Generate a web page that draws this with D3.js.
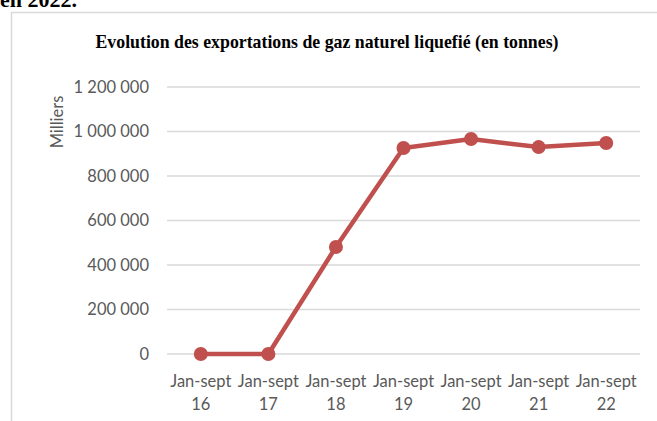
<!DOCTYPE html>
<html>
<head>
<meta charset="utf-8">
<script src="https://cdn.jsdelivr.net/npm/d3@7"></script>
<style>
  body { margin: 0; background: #fff; }
  svg { display: block; }
</style>
</head>
<body>
<div id="chart"></div>
<script>
// data
var categories = ["16", "17", "18", "19", "20", "21", "22"];
var catPrefix = "Jan-sept";
var exports = [0, 0, 481000, 926000, 966000, 930000, 948000];
var yTicks = [0, 200000, 400000, 600000, 800000, 1000000, 1200000];

var svgWidth = 657, svgHeight = 421;
var margin = { top: 87, right: 17, bottom: 67, left: 167 };
var width = svgWidth - margin.left - margin.right;
var height = svgHeight - margin.top - margin.bottom;

var labelFont = "Lato, sans-serif";
var labelSize = 16.5;

var svg = d3.select("#chart").append("svg")
    .attr("width", svgWidth)
    .attr("height", svgHeight);

// clipped paragraph text above the chart
svg.append("text")
    .attr("x", 0)
    .attr("y", 7)
    .attr("font-family", "Liberation Serif, serif")
    .attr("font-weight", "bold")
    .attr("font-size", 22)
    .attr("fill", "#000")
    .text("en 2022.");

// chart frame
svg.append("rect")
    .attr("x", 11.5).attr("y", 12.5)
    .attr("width", 700).attr("height", 500)
    .attr("fill", "none")
    .attr("stroke", "#d9d9d9")
    .attr("stroke-width", 1.5);

svg.append("text")
    .attr("x", 327)
    .attr("y", 48)
    .attr("text-anchor", "middle")
    .attr("font-family", "Liberation Serif, serif")
    .attr("font-weight", "bold")
    .attr("font-size", 17.8)
    .attr("fill", "#000")
    .text("Evolution des exportations de gaz naturel liquefié (en tonnes)");

var chartGroup = svg.append("g")
    .attr("transform", `translate(${margin.left}, ${margin.top})`);

var x = d3.scaleBand().domain(categories).range([0, width]);
var y = d3.scaleLinear().domain([0, 1200000]).range([height, 0]);

var fmt = function(v) { return d3.format(",")(v).replace(/,/g, " "); };

// gridlines
chartGroup.append("g")
    .selectAll("line")
    .data(yTicks)
    .enter()
    .append("line")
    .attr("x1", 0).attr("x2", width)
    .attr("y1", d => y(d)).attr("y2", d => y(d))
    .attr("stroke", "#d9d9d9")
    .attr("stroke-width", 1.5);

// y axis labels
var leftAxis = d3.axisLeft(y).tickValues(yTicks).tickFormat(fmt).tickSize(0).tickPadding(18);
var yAxis = chartGroup.append("g").call(leftAxis);
yAxis.select(".domain").remove();
yAxis.selectAll("text")
    .attr("font-family", labelFont)
    .attr("font-size", labelSize)
    .attr("fill", "#595959");

// x axis labels (two lines)
var bottomAxis = d3.axisBottom(x).tickSize(0).tickPadding(0).tickFormat("");
var xAxis = chartGroup.append("g")
    .attr("transform", `translate(0, ${height})`)
    .call(bottomAxis);
xAxis.select(".domain").remove();
xAxis.selectAll(".tick").each(function(d) {
    var t = d3.select(this).select("text")
        .attr("font-family", labelFont)
        .attr("font-size", labelSize)
        .attr("fill", "#595959")
        .attr("dy", null)
        .attr("y", 0);
    t.append("tspan").attr("x", 0).attr("y", 33).text(catPrefix);
    t.append("tspan").attr("x", 0).attr("y", 56).text(d);
});

// y axis title
svg.append("text")
    .attr("transform", "rotate(-90)")
    .attr("x", -122)
    .attr("y", 63)
    .attr("text-anchor", "middle")
    .attr("font-family", labelFont)
    .attr("font-size", labelSize)
    .attr("fill", "#595959")
    .text("Milliers");

// line + markers
var line = d3.line()
    .x((d, i) => x(categories[i]) + x.bandwidth() / 2)
    .y(d => y(d));

chartGroup.append("path")
    .datum(exports)
    .attr("d", line)
    .attr("fill", "none")
    .attr("stroke", "#c0504d")
    .attr("stroke-width", 4.5)
    .attr("stroke-linejoin", "round");

chartGroup.selectAll("circle")
    .data(exports)
    .enter()
    .append("circle")
    .attr("cx", (d, i) => x(categories[i]) + x.bandwidth() / 2)
    .attr("cy", d => y(d))
    .attr("r", 7)
    .attr("fill", "#c0504d");
</script>
</body>
</html>
